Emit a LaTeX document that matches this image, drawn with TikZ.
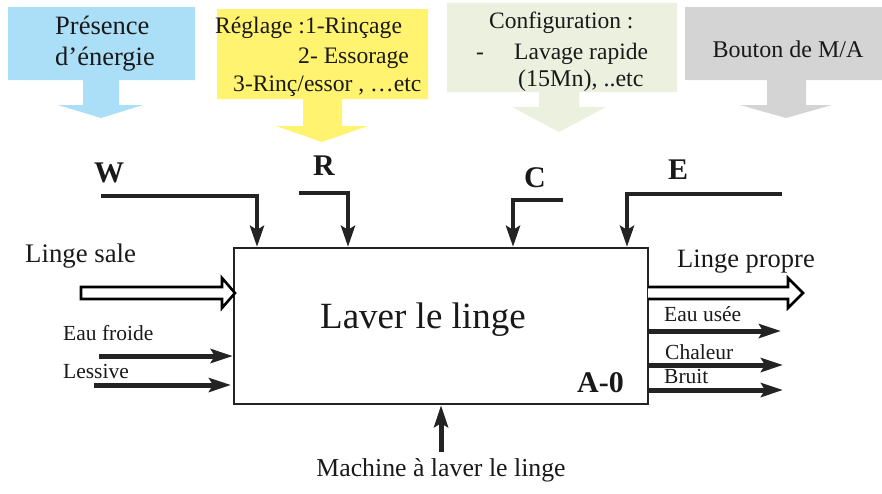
\documentclass[tikz,border=0pt]{standalone}
\usepackage{fontspec}
\setmainfont{Liberation Serif}
\usetikzlibrary{arrows.meta}
\definecolor{cblue}{RGB}{171,223,247}
\definecolor{cyellow}{RGB}{255,243,112}
\definecolor{cgreen}{RGB}{235,241,222}
\definecolor{cgray}{RGB}{212,212,212}
\definecolor{cline}{RGB}{35,35,35}
\tikzset{
  txt/.style={inner sep=0pt, anchor=base west, text=black!90},
  fs/.style={font=\fontsize{#1}{#1}\selectfont},
  bfs/.style={font=\fontsize{#1}{#1}\selectfont\bfseries},
  toparr/.style={line width=4.5pt, cline, -{Stealth[length=21pt,width=14pt,inset=4pt]}},
  sidearr/.style={line width=5pt, cline, -{Stealth[length=22pt,width=14pt,inset=4pt]}},
  hollow/.style={line width=2.6pt, draw=black, fill=white, line join=miter},
  mainbox/.style={draw=cline, line width=2.4pt, minimum width=414pt, minimum height=156pt, inner sep=0pt}
}
\begin{document}
\begin{tikzpicture}[x=1pt,y=-1pt]
\useasboundingbox (0,0) rectangle (882,493);
% callouts
\fill[cblue] (8,7) -- (195,7) -- (195,80) -- (119,80) -- (119,105) -- (143,105) -- (101,118) -- (58,105) -- (83,105) -- (83,80) -- (8,80) -- cycle;
\fill[cyellow] (217,9) -- (428,9) -- (428,99) -- (342,99) -- (342,126) -- (368,126) -- (322,142) -- (276,126) -- (303,126) -- (303,99) -- (217,99) -- cycle;
\fill[cgreen] (447,3) -- (677,3) -- (677,92) -- (579,92) -- (579,107) -- (606,107) -- (559,132) -- (512,107) -- (539,107) -- (539,92) -- (447,92) -- cycle;
\fill[cgray] (685,7) -- (882,7) -- (882,80) -- (806,80) -- (806,105) -- (832,105) -- (786,118) -- (740,105) -- (767,105) -- (767,80) -- (685,80) -- cycle;
% callout texts
\node[txt,fs=26.5] (t1) at (55,34) {Présence};
\node[txt,fs=26.5] (t2) at (55,65) {d’énergie};
\node[txt,fs=23.6] (y1) at (215,33) {Réglage :1-Rinçage};
\node[txt,fs=23.6] (y2) at (298,63) {2- Essorage};
\node[txt,fs=23.6] (y3) at (233,91) {3-Rinç/essor , …etc};
\node[txt,fs=23.5] (g1) at (489,28) {Configuration :};
\node[txt,fs=23.5] (g2) at (476,59) {-};
\node[txt,fs=23.5] (g3) at (514,59) {Lavage rapide};
\node[txt,fs=24] (g4) at (518,86) {(15Mn), ..etc};
\node[inner sep=0pt, anchor=base, fs=24, text=black!90] (b1) at (788,57) {Bouton de M/A};
% main box
\node[mainbox] (box) at (441,326) {};
\node[txt,fs=37] (lab) at (320,328) {Laver le linge};
\node[txt,bfs=30] (a0) at (577,392) {A-0};
% controls
\node[txt,bfs=30] (W) at (94,182) {W};
\node[txt,bfs=30] (R) at (313,175) {R};
\node[txt,bfs=30] (C) at (524,187) {C};
\node[txt,bfs=30] (E) at (668,179) {E};
\coordinate (w0) at (101,196); \coordinate (wx) at (257,0);
\coordinate (r0) at (299,193); \coordinate (rx) at (348,0);
\coordinate (c0) at (563,200); \coordinate (cx) at (513,0);
\coordinate (e0) at (782,194); \coordinate (ex) at (627,0);
\draw[toparr] (w0) -| (wx |- box.north);
\draw[toparr] (r0) -| (rx |- box.north);
\draw[toparr] (c0) -| (cx |- box.north);
\draw[toparr] (e0) -| (ex |- box.north);
% inputs
\node[txt,fs=26.8] (ls) at (25,262) {Linge sale};
\draw[hollow] (81,287) -- (222,287) -- (222,278) -- (235,293) -- (222,308) -- (222,299) -- (81,299) -- cycle;
\node[txt,fs=21.5] (ef) at (63,340) {Eau froide};
\node[txt,fs=21.5] (le) at (63,378) {Lessive};
\coordinate (ef0) at (99,356); \coordinate (le0) at (94,385); \coordinate (le1) at (231,385);
\draw[sidearr] (ef0) -- (ef0 -| box.west);
\draw[sidearr] (le0) -- (le1);
% outputs
\node[txt,fs=26.5] (lp) at (677,267) {Linge propre};
\draw[hollow] (648,287) -- (788,287) -- (788,278) -- (803,293) -- (788,308) -- (788,299) -- (648,299);
\node[txt,fs=21.5] (eu) at (664,321) {Eau usée};
\node[txt,fs=21.5] (ch) at (665,359) {Chaleur};
\node[txt,fs=21.5] (br) at (664,383) {Bruit};
\coordinate (eu1) at (781,331); \coordinate (ch1) at (783,365); \coordinate (br1) at (783,390);
\draw[sidearr] (box.east |- eu1) -- (eu1);
\draw[sidearr] (box.east |- ch1) -- (ch1);
\draw[sidearr] (box.east |- br1) -- (br1);
% mechanism
\coordinate (m0) at (441,452);
\draw[sidearr] (m0) -- (box.south);
\node[inner sep=0pt, anchor=base, fs=25.8, text=black!90] (mach) at (441,476) {Machine à laver le linge};
\end{tikzpicture}
\end{document}
